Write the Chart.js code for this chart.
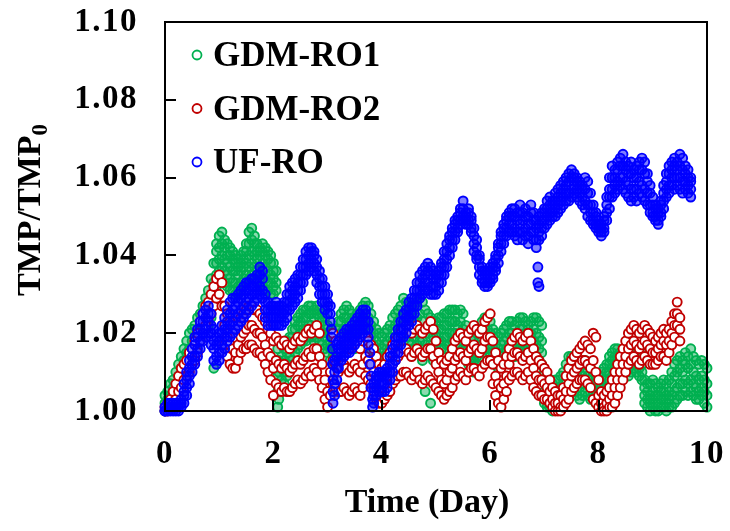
<!DOCTYPE html>
<html>
<head>
<meta charset="utf-8">
<script src="https://cdn.jsdelivr.net/npm/chart.js@4.4.1/dist/chart.umd.min.js"></script>
<style>
  html, body { margin: 0; padding: 0; background: #fff; }
  canvas { display: block; }
</style>
</head>
<body>
<canvas id="tmpChart" width="730" height="531"></canvas>
<script>
const seriesNames = ["GDM-RO1", "GDM-RO2", "UF-RO"];
const seriesColors = ["#00B050", "#C00000", "#0000FF"];
const xTicks = [0, 2, 4, 6, 8, 10];
const yTicks = [1.00, 1.02, 1.04, 1.06, 1.08, 1.10];

// each row: day, then the TMP/TMP0 readings seen around that day
const gdmRo1 = [
  [0.00, 1.000, 1.002, 1.004], [0.05, 1.001, 1.003, 1.005], [0.10, 1.002, 1.004, 1.007], [0.15, 1.003, 1.006, 1.008],
  [0.20, 1.005, 1.007, 1.010], [0.25, 1.007, 1.009, 1.012], [0.30, 1.009, 1.011, 1.014], [0.35, 1.011, 1.013, 1.016],
  [0.40, 1.012, 1.015, 1.018], [0.45, 1.013, 1.016, 1.020], [0.50, 1.015, 1.018, 1.021], [0.55, 1.016, 1.019, 1.022],
  [0.60, 1.017, 1.020, 1.024], [0.65, 1.019, 1.022, 1.025], [0.70, 1.020, 1.023, 1.027], [0.75, 1.021, 1.025, 1.029],
  [0.80, 1.022, 1.026, 1.031], [0.85, 1.024, 1.029, 1.034], [0.90, 1.011, 1.028, 1.033, 1.038],
  [0.95, 1.032, 1.035, 1.038, 1.041, 1.043], [1.00, 1.033, 1.036, 1.039, 1.042, 1.045],
  [1.05, 1.034, 1.037, 1.040, 1.043, 1.046], [1.10, 1.033, 1.036, 1.039, 1.042, 1.044],
  [1.15, 1.032, 1.035, 1.038, 1.040, 1.043], [1.20, 1.031, 1.034, 1.037, 1.040, 1.042],
  [1.25, 1.031, 1.033, 1.036, 1.039, 1.041], [1.30, 1.030, 1.033, 1.036, 1.038, 1.040],
  [1.35, 1.030, 1.032, 1.035, 1.037, 1.039], [1.40, 1.031, 1.033, 1.036, 1.038, 1.040],
  [1.45, 1.032, 1.034, 1.037, 1.039, 1.041], [1.50, 1.033, 1.035, 1.038, 1.041, 1.043],
  [1.55, 1.034, 1.037, 1.040, 1.043, 1.046], [1.60, 1.035, 1.038, 1.041, 1.044, 1.047],
  [1.65, 1.034, 1.037, 1.040, 1.043, 1.045], [1.70, 1.033, 1.036, 1.039, 1.041, 1.043],
  [1.75, 1.032, 1.035, 1.037, 1.040, 1.042], [1.80, 1.032, 1.035, 1.038, 1.041, 1.043],
  [1.85, 1.031, 1.034, 1.037, 1.040, 1.042], [1.90, 1.031, 1.033, 1.036, 1.039, 1.041],
  [1.95, 1.030, 1.033, 1.035, 1.038, 1.040], [2.00, 1.030, 1.032, 1.034, 1.036, 1.038],
  [2.05, 1.031, 1.033, 1.036], [2.08, 1.001, 1.005, 1.009, 1.013, 1.016],
  [2.10, 1.003, 1.006, 1.010, 1.013], [2.15, 1.005, 1.008, 1.011, 1.014], [2.20, 1.007, 1.010, 1.013, 1.016],
  [2.25, 1.009, 1.012, 1.015, 1.018], [2.30, 1.011, 1.014, 1.017, 1.019], [2.35, 1.013, 1.016, 1.019, 1.021],
  [2.40, 1.015, 1.018, 1.021, 1.023], [2.45, 1.016, 1.019, 1.022, 1.024], [2.50, 1.017, 1.020, 1.023, 1.025],
  [2.55, 1.018, 1.021, 1.024, 1.026], [2.60, 1.018, 1.021, 1.024, 1.026], [2.65, 1.019, 1.022, 1.025, 1.027],
  [2.70, 1.019, 1.022, 1.025, 1.027], [2.75, 1.018, 1.021, 1.024, 1.026], [2.80, 1.019, 1.022, 1.025, 1.027],
  [2.85, 1.018, 1.021, 1.024, 1.026], [2.90, 1.017, 1.020, 1.023, 1.025], [2.95, 1.016, 1.019, 1.022, 1.024],
  [3.00, 1.015, 1.017, 1.020, 1.022], [3.05, 1.013, 1.016, 1.018, 1.020], [3.10, 1.012, 1.014, 1.017, 1.019],
  [3.15, 1.014, 1.016, 1.019, 1.021], [3.20, 1.015, 1.018, 1.021, 1.023], [3.25, 1.017, 1.020, 1.023, 1.025],
  [3.30, 1.018, 1.021, 1.024, 1.026], [3.35, 1.018, 1.021, 1.024, 1.027], [3.40, 1.017, 1.020, 1.023, 1.026],
  [3.45, 1.016, 1.019, 1.022, 1.025], [3.50, 1.016, 1.018, 1.021, 1.024], [3.55, 1.017, 1.019, 1.022, 1.025],
  [3.60, 1.017, 1.020, 1.023, 1.026], [3.65, 1.018, 1.021, 1.024, 1.027], [3.70, 1.019, 1.022, 1.025, 1.028],
  [3.75, 1.018, 1.021, 1.024, 1.027], [3.80, 1.016, 1.019, 1.022, 1.025], [3.85, 1.014, 1.017, 1.020, 1.023],
  [3.90, 1.012, 1.015, 1.018, 1.021], [3.95, 1.011, 1.014, 1.017, 1.020], [4.00, 1.011, 1.013, 1.016, 1.019],
  [4.05, 1.012, 1.014, 1.017, 1.020], [4.10, 1.013, 1.015, 1.018, 1.021], [4.15, 1.014, 1.016, 1.019, 1.022],
  [4.20, 1.016, 1.018, 1.021, 1.024], [4.25, 1.017, 1.019, 1.022, 1.025], [4.30, 1.018, 1.020, 1.023, 1.026],
  [4.35, 1.019, 1.021, 1.024, 1.027], [4.40, 1.020, 1.022, 1.025, 1.029], [4.45, 1.019, 1.022, 1.025, 1.028],
  [4.50, 1.018, 1.021, 1.024, 1.027], [4.55, 1.017, 1.020, 1.023, 1.026], [4.60, 1.016, 1.019, 1.023, 1.027],
  [4.65, 1.017, 1.020, 1.024, 1.028], [4.70, 1.018, 1.021, 1.025, 1.029], [4.75, 1.013, 1.018, 1.023, 1.028],
  [4.80, 1.005, 1.017, 1.021, 1.026], [4.85, 1.008, 1.016, 1.020, 1.025], [4.90, 1.002, 1.015, 1.019, 1.024],
  [4.95, 1.013, 1.016, 1.019, 1.023], [5.00, 1.014, 1.017, 1.020, 1.023], [5.05, 1.015, 1.018, 1.021, 1.024],
  [5.10, 1.016, 1.018, 1.021, 1.024], [5.15, 1.016, 1.019, 1.022, 1.025], [5.20, 1.017, 1.019, 1.022, 1.025],
  [5.25, 1.017, 1.020, 1.023, 1.026], [5.30, 1.018, 1.020, 1.023, 1.026], [5.35, 1.018, 1.020, 1.023, 1.026],
  [5.40, 1.017, 1.019, 1.022, 1.025], [5.45, 1.017, 1.020, 1.023, 1.026], [5.50, 1.016, 1.018, 1.021, 1.025],
  [5.55, 1.014, 1.016, 1.019, 1.022], [5.60, 1.012, 1.014, 1.017, 1.020], [5.65, 1.011, 1.013, 1.016, 1.019],
  [5.70, 1.010, 1.013, 1.016, 1.019], [5.75, 1.012, 1.014, 1.017, 1.020], [5.80, 1.013, 1.015, 1.018, 1.021],
  [5.85, 1.015, 1.017, 1.020, 1.023], [5.90, 1.016, 1.018, 1.021, 1.024], [5.95, 1.016, 1.018, 1.021, 1.024],
  [6.00, 1.015, 1.017, 1.020, 1.023], [6.05, 1.013, 1.015, 1.018, 1.021], [6.10, 1.012, 1.014, 1.017, 1.020],
  [6.15, 1.011, 1.013, 1.016, 1.019], [6.20, 1.012, 1.014, 1.017, 1.020], [6.25, 1.013, 1.015, 1.018, 1.021],
  [6.30, 1.014, 1.016, 1.019, 1.022], [6.35, 1.015, 1.017, 1.020, 1.023], [6.40, 1.015, 1.017, 1.020, 1.023],
  [6.45, 1.014, 1.016, 1.019, 1.022], [6.50, 1.015, 1.017, 1.020, 1.023], [6.55, 1.016, 1.018, 1.021, 1.024],
  [6.60, 1.016, 1.018, 1.021, 1.024], [6.65, 1.015, 1.017, 1.020, 1.023], [6.70, 1.014, 1.016, 1.019, 1.022],
  [6.75, 1.015, 1.017, 1.020, 1.023], [6.80, 1.016, 1.018, 1.021, 1.024], [6.85, 1.014, 1.017, 1.020, 1.024],
  [6.90, 1.013, 1.016, 1.019, 1.023], [6.95, 1.012, 1.015, 1.018, 1.022], [7.00, 1.002, 1.005, 1.008, 1.010],
  [7.05, 1.001, 1.003, 1.006, 1.009], [7.10, 1.001, 1.003, 1.005, 1.008], [7.15, 1.000, 1.002, 1.005, 1.007],
  [7.20, 1.001, 1.003, 1.005, 1.008], [7.25, 1.001, 1.003, 1.006, 1.008], [7.30, 1.002, 1.004, 1.006, 1.009],
  [7.35, 1.002, 1.004, 1.007, 1.010], [7.40, 1.003, 1.006, 1.009, 1.012], [7.45, 1.004, 1.007, 1.011, 1.014],
  [7.50, 1.005, 1.008, 1.011, 1.014], [7.55, 1.005, 1.008, 1.010, 1.013], [7.60, 1.004, 1.007, 1.009, 1.012],
  [7.65, 1.003, 1.006, 1.008, 1.011], [7.70, 1.004, 1.007, 1.009, 1.012], [7.75, 1.005, 1.008, 1.010, 1.013],
  [7.80, 1.004, 1.007, 1.009, 1.012], [7.85, 1.003, 1.006, 1.008, 1.011], [7.90, 1.003, 1.005, 1.007, 1.010],
  [7.95, 1.002, 1.004, 1.007, 1.009], [8.00, 1.002, 1.004, 1.006, 1.009], [8.05, 1.003, 1.005, 1.007, 1.010],
  [8.10, 1.004, 1.006, 1.008, 1.011], [8.15, 1.006, 1.008, 1.010, 1.012], [8.20, 1.008, 1.010, 1.012, 1.014],
  [8.25, 1.009, 1.011, 1.013, 1.015], [8.30, 1.010, 1.012, 1.014, 1.016], [8.35, 1.010, 1.012, 1.014, 1.016],
  [8.40, 1.009, 1.011, 1.013, 1.015], [8.45, 1.010, 1.012, 1.014, 1.016], [8.50, 1.010, 1.012, 1.014, 1.016],
  [8.55, 1.009, 1.011, 1.013, 1.015], [8.60, 1.010, 1.012, 1.014, 1.016], [8.65, 1.011, 1.013, 1.015, 1.017],
  [8.70, 1.010, 1.012, 1.014, 1.016], [8.75, 1.009, 1.011, 1.013, 1.016], [8.80, 1.008, 1.010, 1.012, 1.015],
  [8.85, 1.002, 1.004, 1.006, 1.008], [8.90, 1.001, 1.003, 1.005, 1.007], [8.95, 1.000, 1.002, 1.004, 1.007],
  [9.00, 1.001, 1.003, 1.005, 1.008], [9.05, 1.000, 1.002, 1.004, 1.007], [9.10, 1.000, 1.002, 1.004, 1.006],
  [9.15, 1.001, 1.003, 1.005, 1.007], [9.20, 1.001, 1.003, 1.005, 1.008], [9.25, 1.000, 1.002, 1.004, 1.007],
  [9.30, 1.001, 1.003, 1.005, 1.008], [9.35, 1.001, 1.004, 1.007, 1.010], [9.40, 1.002, 1.005, 1.009, 1.012],
  [9.45, 1.003, 1.006, 1.010, 1.013], [9.50, 1.004, 1.007, 1.011, 1.014], [9.55, 1.004, 1.007, 1.010, 1.013],
  [9.60, 1.005, 1.008, 1.012, 1.015], [9.65, 1.004, 1.007, 1.011, 1.014], [9.70, 1.005, 1.008, 1.012, 1.016],
  [9.75, 1.004, 1.007, 1.010, 1.014], [9.80, 1.003, 1.006, 1.009, 1.013], [9.85, 1.003, 1.005, 1.008, 1.012],
  [9.90, 1.004, 1.006, 1.009, 1.013], [9.95, 1.002, 1.005, 1.008, 1.012], [10.00, 1.001, 1.004, 1.007, 1.011]
];

const gdmRo2 = [
  [0.00, 1.001, 1.000], [0.05, 1.002, 1.000], [0.10, 1.003, 1.001], [0.15, 1.005, 1.002],
  [0.20, 1.007, 1.003], [0.25, 1.009, 1.005], [0.30, 1.011, 1.006], [0.35, 1.012, 1.008],
  [0.40, 1.013, 1.009], [0.45, 1.015, 1.010], [0.50, 1.016, 1.012], [0.55, 1.018, 1.013],
  [0.60, 1.020, 1.015], [0.65, 1.023, 1.018], [0.70, 1.025, 1.020], [0.75, 1.027, 1.022],
  [0.80, 1.028, 1.024], [0.85, 1.030, 1.025], [0.90, 1.032, 1.027], [0.95, 1.034, 1.029],
  [1.00, 1.035, 1.030], [1.05, 1.033, 1.027], [1.10, 1.027, 1.022, 1.017], [1.15, 1.025, 1.019, 1.014],
  [1.20, 1.023, 1.017, 1.012], [1.25, 1.022, 1.016, 1.011], [1.30, 1.021, 1.015, 1.011], [1.35, 1.022, 1.017, 1.013],
  [1.40, 1.024, 1.019, 1.015], [1.45, 1.025, 1.020, 1.016], [1.50, 1.026, 1.021, 1.016], [1.55, 1.027, 1.022, 1.017],
  [1.60, 1.027, 1.022, 1.017], [1.65, 1.026, 1.021, 1.016], [1.70, 1.026, 1.020, 1.015], [1.75, 1.025, 1.020, 1.015],
  [1.80, 1.024, 1.019, 1.014], [1.85, 1.023, 1.017, 1.012], [1.90, 1.021, 1.015, 1.010], [1.95, 1.020, 1.014, 1.008],
  [2.00, 1.018, 1.011, 1.004], [2.05, 1.019, 1.013, 1.007], [2.10, 1.018, 1.012, 1.006], [2.15, 1.017, 1.011, 1.005],
  [2.20, 1.018, 1.012, 1.006], [2.25, 1.017, 1.011, 1.005], [2.30, 1.016, 1.010, 1.005], [2.35, 1.017, 1.011, 1.006],
  [2.40, 1.018, 1.012, 1.007], [2.45, 1.019, 1.013, 1.008], [2.50, 1.018, 1.012, 1.007], [2.55, 1.019, 1.013, 1.008],
  [2.60, 1.020, 1.014, 1.009], [2.65, 1.021, 1.015, 1.010], [2.70, 1.020, 1.014, 1.009], [2.75, 1.021, 1.016, 1.011],
  [2.80, 1.022, 1.016, 1.010], [2.85, 1.020, 1.014, 1.008], [2.90, 1.012, 1.006], [2.95, 1.008, 1.003],
  [3.00, 1.005, 1.001], [3.05, 1.010, 1.004], [3.10, 1.020, 1.013, 1.007], [3.15, 1.018, 1.012, 1.006],
  [3.20, 1.016, 1.010, 1.005], [3.25, 1.017, 1.011, 1.005], [3.30, 1.018, 1.012, 1.006], [3.35, 1.017, 1.011, 1.005],
  [3.40, 1.016, 1.010, 1.004], [3.45, 1.017, 1.011, 1.005], [3.50, 1.018, 1.012, 1.006], [3.55, 1.017, 1.011, 1.005],
  [3.60, 1.016, 1.010, 1.004], [3.65, 1.018, 1.012, 1.006], [3.70, 1.019, 1.014, 1.009], [3.75, 1.018, 1.013, 1.008],
  [3.80, 1.017, 1.012, 1.007], [3.85, 1.016, 1.010, 1.005], [3.90, 1.014, 1.008, 1.003], [3.95, 1.012, 1.007, 1.002],
  [4.00, 1.011, 1.006, 1.002], [4.05, 1.012, 1.007, 1.003], [4.10, 1.014, 1.009, 1.004], [4.15, 1.015, 1.010, 1.005],
  [4.20, 1.017, 1.012, 1.007], [4.25, 1.018, 1.013, 1.008], [4.30, 1.019, 1.014, 1.009], [4.35, 1.020, 1.015, 1.009],
  [4.40, 1.021, 1.016, 1.010], [4.45, 1.022, 1.016, 1.010], [4.50, 1.021, 1.015, 1.009], [4.55, 1.020, 1.014, 1.008],
  [4.60, 1.021, 1.015, 1.009], [4.65, 1.022, 1.016, 1.010], [4.70, 1.021, 1.015, 1.008], [4.75, 1.020, 1.014, 1.007],
  [4.80, 1.021, 1.015, 1.008], [4.85, 1.022, 1.016, 1.009], [4.90, 1.023, 1.016, 1.008], [4.95, 1.021, 1.014, 1.007],
  [5.00, 1.018, 1.012, 1.006], [5.05, 1.015, 1.010, 1.005], [5.10, 1.013, 1.008, 1.004], [5.15, 1.012, 1.007, 1.003],
  [5.20, 1.013, 1.008, 1.004], [5.25, 1.014, 1.010, 1.005], [5.30, 1.016, 1.011, 1.006], [5.35, 1.018, 1.013, 1.008],
  [5.40, 1.019, 1.014, 1.009], [5.45, 1.020, 1.015, 1.010], [5.50, 1.019, 1.014, 1.009], [5.55, 1.018, 1.013, 1.008],
  [5.60, 1.020, 1.015, 1.010], [5.65, 1.021, 1.016, 1.011], [5.70, 1.022, 1.017, 1.011], [5.75, 1.021, 1.016, 1.010],
  [5.80, 1.020, 1.015, 1.009], [5.85, 1.021, 1.016, 1.011], [5.90, 1.023, 1.018, 1.012], [5.95, 1.024, 1.019, 1.013],
  [6.00, 1.025, 1.019, 1.013], [6.05, 1.018, 1.012, 1.007], [6.10, 1.015, 1.009, 1.004], [6.15, 1.013, 1.007, 1.002],
  [6.20, 1.011, 1.006, 1.001], [6.25, 1.012, 1.007, 1.003], [6.30, 1.014, 1.009, 1.005], [6.35, 1.016, 1.012, 1.008],
  [6.40, 1.018, 1.014, 1.009], [6.45, 1.019, 1.015, 1.010], [6.50, 1.020, 1.015, 1.010], [6.55, 1.019, 1.014, 1.009],
  [6.60, 1.018, 1.013, 1.008], [6.65, 1.019, 1.014, 1.009], [6.70, 1.020, 1.015, 1.010], [6.75, 1.018, 1.013, 1.008],
  [6.80, 1.016, 1.011, 1.006], [6.85, 1.014, 1.009, 1.005], [6.90, 1.013, 1.008, 1.004], [6.95, 1.012, 1.008, 1.004],
  [7.00, 1.011, 1.007, 1.003], [7.05, 1.010, 1.006, 1.003], [7.10, 1.008, 1.005, 1.002], [7.15, 1.006, 1.003, 1.001],
  [7.20, 1.005, 1.002, 1.000], [7.25, 1.004, 1.002, 1.000], [7.30, 1.004, 1.001, 1.000], [7.35, 1.006, 1.003, 1.001],
  [7.40, 1.009, 1.005, 1.002], [7.45, 1.011, 1.007, 1.003], [7.50, 1.013, 1.009, 1.005], [7.55, 1.014, 1.010, 1.006],
  [7.60, 1.015, 1.011, 1.007], [7.65, 1.016, 1.012, 1.008], [7.70, 1.017, 1.013, 1.008], [7.75, 1.018, 1.013, 1.008],
  [7.80, 1.017, 1.012, 1.007], [7.85, 1.016, 1.011, 1.006], [7.90, 1.020, 1.013, 1.003], [7.95, 1.019, 1.010, 1.002],
  [8.00, 1.008, 1.004, 1.001], [8.05, 1.005, 1.002, 1.000], [8.10, 1.004, 1.001, 1.000], [8.15, 1.005, 1.002, 1.000],
  [8.20, 1.006, 1.003, 1.001], [8.25, 1.008, 1.004, 1.001], [8.30, 1.010, 1.006, 1.002], [8.35, 1.012, 1.008, 1.004],
  [8.40, 1.014, 1.010, 1.006], [8.45, 1.016, 1.012, 1.008], [8.50, 1.018, 1.014, 1.010], [8.55, 1.020, 1.016, 1.012],
  [8.60, 1.021, 1.017, 1.013], [8.65, 1.022, 1.018, 1.014], [8.70, 1.021, 1.017, 1.013], [8.75, 1.020, 1.016, 1.012],
  [8.80, 1.021, 1.017, 1.013], [8.85, 1.022, 1.018, 1.014], [8.90, 1.021, 1.017, 1.013], [8.95, 1.020, 1.016, 1.012],
  [9.00, 1.019, 1.015, 1.012], [9.05, 1.018, 1.015, 1.012], [9.10, 1.019, 1.016, 1.013], [9.15, 1.020, 1.017, 1.014],
  [9.20, 1.021, 1.018, 1.014], [9.25, 1.020, 1.017, 1.013], [9.30, 1.021, 1.018, 1.015], [9.35, 1.023, 1.020, 1.017],
  [9.40, 1.025, 1.022, 1.019], [9.45, 1.028, 1.025, 1.022], [9.50, 1.024, 1.021, 1.018]
];

const ufRo = [
  [0.00, 1.000, 1.001, 1.000], [0.05, 1.001, 1.000, 1.002], [0.10, 1.000, 1.001, 1.002], [0.15, 1.001, 1.000, 1.002],
  [0.20, 1.000, 1.002, 1.001], [0.25, 1.001, 1.002, 1.000], [0.30, 1.001, 1.003, 1.002],
  [0.35, 1.002, 1.004, 1.005, 1.007], [0.40, 1.004, 1.006, 1.008, 1.010], [0.45, 1.007, 1.009, 1.011, 1.013],
  [0.50, 1.010, 1.012, 1.014, 1.016], [0.55, 1.012, 1.014, 1.017, 1.019], [0.60, 1.014, 1.016, 1.019, 1.021],
  [0.65, 1.016, 1.018, 1.021, 1.023], [0.70, 1.018, 1.020, 1.023, 1.025], [0.75, 1.019, 1.021, 1.024, 1.026],
  [0.80, 1.020, 1.023, 1.025, 1.027], [0.85, 1.017, 1.020, 1.022, 1.025], [0.90, 1.013, 1.016, 1.018, 1.021],
  [0.95, 1.012, 1.014, 1.017, 1.019], [1.00, 1.013, 1.015, 1.018, 1.020], [1.05, 1.015, 1.017, 1.020, 1.022],
  [1.10, 1.016, 1.019, 1.021, 1.024], [1.15, 1.018, 1.021, 1.023, 1.026], [1.20, 1.019, 1.022, 1.025, 1.028],
  [1.25, 1.020, 1.023, 1.026, 1.029], [1.30, 1.021, 1.024, 1.027, 1.029], [1.35, 1.022, 1.025, 1.028, 1.030],
  [1.40, 1.023, 1.026, 1.029, 1.031], [1.45, 1.024, 1.027, 1.030, 1.032], [1.50, 1.025, 1.028, 1.031, 1.033],
  [1.55, 1.026, 1.029, 1.031, 1.033], [1.60, 1.027, 1.030, 1.032, 1.034], [1.65, 1.028, 1.030, 1.032, 1.034],
  [1.70, 1.029, 1.031, 1.033, 1.035], [1.75, 1.030, 1.032, 1.035, 1.037], [1.80, 1.029, 1.031, 1.034, 1.036],
  [1.85, 1.024, 1.026, 1.028, 1.030], [1.90, 1.022, 1.024, 1.026, 1.028], [1.95, 1.022, 1.024, 1.026, 1.027],
  [2.00, 1.022, 1.024, 1.026, 1.027], [2.05, 1.022, 1.024, 1.026, 1.028], [2.10, 1.022, 1.024, 1.026, 1.027],
  [2.15, 1.022, 1.024, 1.025, 1.027], [2.20, 1.023, 1.025, 1.026, 1.028], [2.25, 1.024, 1.026, 1.028, 1.030],
  [2.30, 1.026, 1.028, 1.030, 1.032], [2.35, 1.027, 1.029, 1.031, 1.033], [2.40, 1.028, 1.030, 1.032, 1.034],
  [2.45, 1.029, 1.031, 1.033, 1.035], [2.50, 1.031, 1.033, 1.035, 1.037], [2.55, 1.033, 1.035, 1.037, 1.039],
  [2.60, 1.035, 1.037, 1.039, 1.041], [2.65, 1.036, 1.038, 1.040, 1.042], [2.70, 1.037, 1.039, 1.041, 1.042],
  [2.75, 1.036, 1.038, 1.040, 1.041], [2.80, 1.033, 1.035, 1.037, 1.039], [2.85, 1.030, 1.032, 1.034, 1.036],
  [2.90, 1.028, 1.030, 1.032, 1.034], [2.95, 1.026, 1.028, 1.030, 1.032], [3.00, 1.025, 1.027, 1.028, 1.030],
  [3.05, 1.023, 1.025, 1.027], [3.07, 1.021, 1.019], [3.09, 1.016, 1.012], [3.10, 1.002, 1.005, 1.008],
  [3.13, 1.004, 1.007, 1.010, 1.013], [3.17, 1.008, 1.011, 1.014, 1.017], [3.20, 1.011, 1.013, 1.016, 1.018],
  [3.25, 1.013, 1.015, 1.017, 1.019], [3.30, 1.014, 1.016, 1.018, 1.020], [3.35, 1.015, 1.017, 1.019, 1.021],
  [3.40, 1.015, 1.017, 1.019, 1.021], [3.45, 1.016, 1.018, 1.020, 1.022], [3.50, 1.017, 1.019, 1.021, 1.023],
  [3.55, 1.018, 1.020, 1.022, 1.024], [3.60, 1.019, 1.021, 1.023, 1.025], [3.65, 1.020, 1.022, 1.024, 1.026],
  [3.70, 1.021, 1.023, 1.025, 1.026], [3.75, 1.017, 1.019, 1.021, 1.023], [3.78, 1.012, 1.015],
  [3.80, 1.006, 1.009], [3.83, 1.001, 1.003], [3.85, 1.002, 1.004, 1.006, 1.007],
  [3.90, 1.004, 1.006, 1.008, 1.009], [3.95, 1.005, 1.007, 1.009, 1.010], [4.00, 1.005, 1.007, 1.009, 1.010],
  [4.05, 1.005, 1.007, 1.009, 1.010], [4.10, 1.006, 1.008, 1.010, 1.011], [4.15, 1.008, 1.010, 1.012, 1.014],
  [4.20, 1.010, 1.012, 1.014, 1.016], [4.25, 1.013, 1.015, 1.017, 1.019], [4.30, 1.015, 1.017, 1.019, 1.021],
  [4.35, 1.017, 1.019, 1.021, 1.023], [4.40, 1.019, 1.021, 1.023, 1.025], [4.45, 1.020, 1.022, 1.024, 1.026],
  [4.50, 1.022, 1.024, 1.026, 1.028], [4.55, 1.023, 1.025, 1.027, 1.029], [4.60, 1.025, 1.027, 1.029, 1.031],
  [4.65, 1.027, 1.029, 1.031, 1.033], [4.70, 1.029, 1.031, 1.033, 1.035], [4.75, 1.030, 1.032, 1.034, 1.036],
  [4.80, 1.031, 1.033, 1.035, 1.037], [4.85, 1.031, 1.033, 1.036, 1.038], [4.90, 1.030, 1.032, 1.035, 1.037],
  [4.95, 1.030, 1.032, 1.034, 1.036], [5.00, 1.030, 1.032, 1.034, 1.035], [5.05, 1.031, 1.033, 1.035, 1.036],
  [5.10, 1.033, 1.035, 1.037, 1.038], [5.15, 1.035, 1.037, 1.039, 1.041], [5.20, 1.037, 1.039, 1.041, 1.043],
  [5.25, 1.040, 1.042, 1.044, 1.045], [5.30, 1.042, 1.044, 1.046, 1.047], [5.35, 1.044, 1.046, 1.048, 1.049],
  [5.40, 1.046, 1.047, 1.049, 1.050], [5.45, 1.048, 1.049, 1.051, 1.052], [5.50, 1.049, 1.050, 1.052, 1.054],
  [5.55, 1.048, 1.049, 1.050, 1.051], [5.60, 1.048, 1.049, 1.051, 1.052], [5.65, 1.046, 1.047, 1.049, 1.050],
  [5.70, 1.041, 1.043, 1.045, 1.047], [5.75, 1.039, 1.040, 1.042, 1.044], [5.80, 1.035, 1.037, 1.039, 1.040],
  [5.85, 1.033, 1.034, 1.036, 1.037], [5.90, 1.032, 1.033, 1.035, 1.036], [5.95, 1.032, 1.033, 1.035, 1.036],
  [6.00, 1.033, 1.034, 1.036, 1.037], [6.05, 1.034, 1.035, 1.037, 1.038], [6.10, 1.036, 1.037, 1.039, 1.040],
  [6.15, 1.038, 1.040, 1.042, 1.043], [6.20, 1.041, 1.043, 1.045, 1.046], [6.25, 1.043, 1.045, 1.047, 1.048],
  [6.30, 1.045, 1.047, 1.049, 1.050], [6.35, 1.046, 1.048, 1.050, 1.051], [6.40, 1.046, 1.048, 1.050, 1.052],
  [6.45, 1.045, 1.047, 1.050, 1.052], [6.50, 1.044, 1.046, 1.049, 1.051], [6.55, 1.046, 1.048, 1.051, 1.053],
  [6.60, 1.044, 1.046, 1.049, 1.051], [6.65, 1.045, 1.047, 1.050, 1.052], [6.70, 1.043, 1.045, 1.048, 1.050],
  [6.75, 1.046, 1.048, 1.051, 1.053], [6.80, 1.044, 1.046, 1.049, 1.051], [6.85, 1.042, 1.044, 1.047, 1.049],
  [6.88, 1.037, 1.033], [6.90, 1.044, 1.046, 1.048, 1.050, 1.032], [6.95, 1.045, 1.047, 1.049, 1.051],
  [7.00, 1.047, 1.049, 1.051, 1.052], [7.05, 1.048, 1.050, 1.052, 1.054], [7.10, 1.049, 1.051, 1.053, 1.055],
  [7.15, 1.050, 1.051, 1.053, 1.054], [7.20, 1.050, 1.052, 1.054, 1.056], [7.25, 1.051, 1.053, 1.055, 1.057],
  [7.30, 1.052, 1.054, 1.056, 1.058], [7.35, 1.053, 1.055, 1.057, 1.059], [7.40, 1.054, 1.056, 1.058, 1.060],
  [7.45, 1.054, 1.056, 1.059, 1.061], [7.50, 1.055, 1.057, 1.060, 1.062], [7.55, 1.056, 1.058, 1.060, 1.061],
  [7.60, 1.055, 1.057, 1.059, 1.060], [7.65, 1.054, 1.056, 1.058, 1.059], [7.70, 1.053, 1.055, 1.057, 1.058],
  [7.75, 1.052, 1.054, 1.057, 1.060], [7.80, 1.050, 1.053, 1.056, 1.059], [7.85, 1.049, 1.051, 1.053, 1.056],
  [7.90, 1.048, 1.049, 1.051, 1.053], [7.95, 1.047, 1.048, 1.050, 1.051], [8.00, 1.046, 1.047, 1.048, 1.049],
  [8.05, 1.045, 1.046, 1.047, 1.048], [8.10, 1.046, 1.047, 1.049, 1.050], [8.15, 1.049, 1.051, 1.053, 1.055],
  [8.20, 1.052, 1.055, 1.057, 1.060], [8.25, 1.055, 1.057, 1.060, 1.063], [8.30, 1.056, 1.058, 1.060, 1.062],
  [8.35, 1.057, 1.059, 1.062, 1.064], [8.40, 1.058, 1.060, 1.063, 1.065], [8.45, 1.057, 1.060, 1.063, 1.066],
  [8.50, 1.056, 1.059, 1.062, 1.064], [8.55, 1.055, 1.058, 1.061, 1.063], [8.60, 1.054, 1.057, 1.061, 1.064],
  [8.65, 1.055, 1.057, 1.060, 1.062], [8.70, 1.054, 1.057, 1.060, 1.063], [8.75, 1.056, 1.059, 1.062, 1.064],
  [8.80, 1.055, 1.058, 1.062, 1.065], [8.85, 1.054, 1.057, 1.061, 1.064], [8.90, 1.053, 1.056, 1.059, 1.061],
  [8.95, 1.051, 1.053, 1.056, 1.058], [9.00, 1.050, 1.051, 1.053, 1.055], [9.05, 1.049, 1.050, 1.052, 1.053],
  [9.10, 1.048, 1.049, 1.051, 1.052], [9.15, 1.050, 1.051, 1.053, 1.054], [9.20, 1.052, 1.054, 1.056, 1.058],
  [9.25, 1.055, 1.057, 1.059, 1.061], [9.30, 1.056, 1.058, 1.061, 1.063], [9.35, 1.058, 1.060, 1.062, 1.064],
  [9.40, 1.057, 1.060, 1.063, 1.065], [9.45, 1.058, 1.060, 1.062, 1.064], [9.50, 1.057, 1.060, 1.063, 1.066],
  [9.55, 1.056, 1.059, 1.062, 1.065], [9.60, 1.057, 1.059, 1.061, 1.063], [9.65, 1.056, 1.058, 1.060, 1.062],
  [9.70, 1.055, 1.057, 1.059, 1.060]
];

const serif = '"Liberation Serif", "Times New Roman", serif';

const toPoints = (rows) => rows.flatMap(([day, ...vals]) => vals.map((v) => ({ x: day, y: v })));

// slightly wider tick labels, like the original figure
const tickSpacing = {
  id: "tickSpacing",
  beforeDraw(chart) { chart.ctx.letterSpacing = "1.5px"; },
  beforeDatasetsDraw(chart) { chart.ctx.letterSpacing = "0px"; },
};

// frame round the plot and the short inward tick marks
const frameAndTicks = {
  id: "frameAndTicks",
  afterDatasetsDraw(chart) {
    const { ctx, chartArea: a, scales } = chart;
    ctx.save();
    ctx.strokeStyle = "#000";
    ctx.lineWidth = 2;
    ctx.strokeRect(a.left, a.top, a.right - a.left, a.bottom - a.top);
    ctx.beginPath();
    scales.y.ticks.forEach((t) => {
      const py = Math.round(scales.y.getPixelForValue(t.value));
      ctx.moveTo(a.left, py);
      ctx.lineTo(a.left + 11, py);
    });
    scales.x.ticks.forEach((t) => {
      const px = Math.round(scales.x.getPixelForValue(t.value));
      ctx.moveTo(px, a.bottom);
      ctx.lineTo(px, a.bottom - 11);
    });
    ctx.stroke();
    ctx.restore();
  },
};

// legend in the top left corner and both axis titles
const labels = {
  id: "labels",
  afterDraw(chart) {
    const { ctx } = chart;
    ctx.save();
    ctx.letterSpacing = "0px";
    ctx.fillStyle = "#000";

    chart.data.datasets.forEach((ds, i) => {
      const y = 55 + i * 53.5;
      ctx.beginPath();
      ctx.arc(197, y, 4.5, 0, Math.PI * 2);
      ctx.strokeStyle = ds.borderColor;
      ctx.lineWidth = 1.8;
      ctx.stroke();
      ctx.font = "bold 35px " + serif;
      ctx.textAlign = "left";
      ctx.textBaseline = "middle";
      ctx.fillText(ds.label, 213, y + 2);
    });

    ctx.font = "bold 34px " + serif;
    ctx.textAlign = "center";
    ctx.textBaseline = "alphabetic";
    ctx.fillText("Time (Day)", 427, 512);

    ctx.translate(40, 210);
    ctx.rotate(-Math.PI / 2);
    const main = "TMP/TMP";
    ctx.font = "bold 34px " + serif;
    const w1 = ctx.measureText(main).width;
    ctx.font = "bold 23px " + serif;
    const w2 = ctx.measureText("0").width;
    const start = -(w1 + w2) / 2;
    ctx.textAlign = "left";
    ctx.font = "bold 34px " + serif;
    ctx.fillText(main, start, 0);
    ctx.font = "bold 23px " + serif;
    ctx.fillText("0", start + w1, 7);
    ctx.restore();
  },
};

// tint inside the rings so the dense runs read as a solid band
const fills = ["rgba(0,176,80,0.45)", "#FFFFFF", "rgba(0,0,255,0.5)"];
const seriesRows = [gdmRo1, gdmRo2, ufRo];

const noPad = (s) => { s.paddingTop = 0; s.paddingBottom = 0; s.paddingLeft = 0; s.paddingRight = 0; };

new Chart(document.getElementById("tmpChart"), {
  type: "scatter",
  data: {
    datasets: seriesRows.map((rows, i) => ({
      label: seriesNames[i],
      data: toPoints(rows),
      borderColor: seriesColors[i],
      backgroundColor: fills[i],
      pointRadius: 4.5,
      pointBorderWidth: 1.9,
      pointHoverRadius: 4.5,
      clip: false,
      order: 3 - i,
    })),
  },
  options: {
    responsive: false,
    animation: false,
    devicePixelRatio: 1,
    events: [],
    layout: { padding: { left: 0, top: 22, right: 23, bottom: 0 } },
    plugins: { legend: { display: false }, tooltip: { enabled: false } },
    scales: {
      x: {
        type: "linear",
        min: 0,
        max: 10,
        afterBuildTicks: (s) => { s.ticks = xTicks.map((v) => ({ value: v })); },
        afterFit: (s) => { s.height = 120; noPad(s); },
        grid: { display: false, drawTicks: false },
        border: { display: false },
        ticks: { color: "#000", padding: 24, maxRotation: 0, font: { family: serif, size: 33, weight: "bold" } },
      },
      y: {
        type: "linear",
        min: 1.0,
        max: 1.1,
        afterBuildTicks: (s) => { s.ticks = yTicks.map((v) => ({ value: v })); },
        afterFit: (s) => { s.width = 165; noPad(s); },
        grid: { display: false, drawTicks: false },
        border: { display: false },
        ticks: {
          color: "#000",
          padding: 27,
          font: { family: serif, size: 33, weight: "bold" },
          callback: (v) => Number(v).toFixed(2),
        },
      },
    },
  },
  plugins: [tickSpacing, frameAndTicks, labels],
});
</script>
</body>
</html>
